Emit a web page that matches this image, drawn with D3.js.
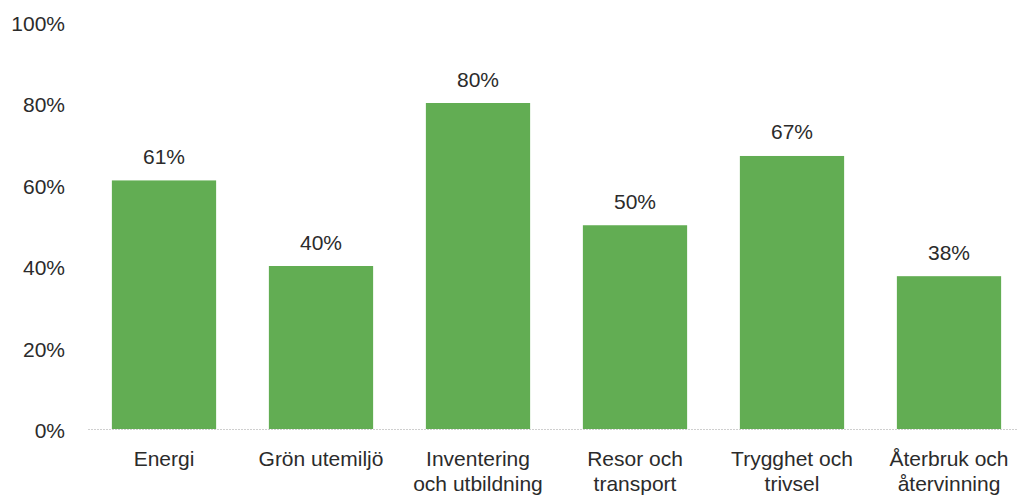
<!DOCTYPE html>
<html>
<head>
<meta charset="utf-8">
<script src="https://cdn.jsdelivr.net/npm/d3@7"></script>
<style>
  body { margin: 0; background: #ffffff; }
  svg { display: block; font-family: "Liberation Sans", Arial, sans-serif; }
</style>
</head>
<body>
<div id="chart"></div>
<script>
// data
const CATEGORIES = [
  ["Energi"],
  ["Grön utemiljö"],
  ["Inventering", "och utbildning"],
  ["Resor och", "transport"],
  ["Trygghet och", "trivsel"],
  ["Återbruk och", "återvinning"]
];
const VALUES = [0.61, 0.40, 0.80, 0.50, 0.67, 0.375];
const Y_TICKS = [0, 0.2, 0.4, 0.6, 0.8, 1.0];

// frame constants
const FRAME_WIDTH = 1017;
const FRAME_HEIGHT = 496;
const BASE_Y = 429;
const TOP_Y = 21.5;
const FONT = "21px";

const FRAME = d3.select("#chart")
  .append("svg")
  .attr("width", FRAME_WIDTH)
  .attr("height", FRAME_HEIGHT);

const KEYS = CATEGORIES.map((c) => c.join(" "));

const X_SCALE = d3.scaleBand()
  .domain(KEYS)
  .range([85.5, 1027.5])
  .paddingInner(0.336)
  .paddingOuter(0.168);

const Y_SCALE = d3.scaleLinear()
  .domain([0, 1])
  .range([BASE_Y, TOP_Y]);

const PCT = d3.format(".0%");

// baseline (light dotted)
FRAME.append("line")
  .attr("x1", 88)
  .attr("x2", FRAME_WIDTH)
  .attr("y1", Y_SCALE(0) + 0.5)
  .attr("y2", Y_SCALE(0) + 0.5)
  .attr("stroke", "#cfcfcf")
  .attr("stroke-dasharray", "2,1")
  .attr("stroke-width", 1);

// y axis (labels only)
const Y_AXIS = FRAME.append("g")
  .attr("transform", "translate(65,2)")
  .call(d3.axisLeft(Y_SCALE).tickValues(Y_TICKS).tickFormat(PCT).tickSize(0).tickPadding(0));
Y_AXIS.select(".domain").remove();
Y_AXIS.selectAll("text")
  .attr("font-family", "'Liberation Sans', Arial, sans-serif")
  .attr("font-size", FONT)
  .attr("fill", "#2b2b2b");

// bars
FRAME.selectAll(".bar")
  .data(VALUES)
  .enter()
  .append("rect")
  .attr("class", "bar")
  .attr("x", (d, i) => X_SCALE(KEYS[i]))
  .attr("y", (d) => Y_SCALE(d))
  .attr("width", X_SCALE.bandwidth())
  .attr("height", (d) => Y_SCALE(0) - Y_SCALE(d))
  .attr("fill", "#62ad53");

// value labels
FRAME.selectAll(".val")
  .data(VALUES)
  .enter()
  .append("text")
  .attr("class", "val")
  .attr("x", (d, i) => X_SCALE(KEYS[i]) + X_SCALE.bandwidth() / 2)
  .attr("y", (d) => Y_SCALE(d) - 16.5)
  .attr("text-anchor", "middle")
  .attr("font-size", FONT)
  .attr("fill", "#2b2b2b")
  .text((d) => PCT(d));

// category labels
const CAT = FRAME.selectAll(".cat")
  .data(CATEGORIES)
  .enter()
  .append("text")
  .attr("class", "cat")
  .attr("x", (d, i) => X_SCALE(KEYS[i]) + X_SCALE.bandwidth() / 2)
  .attr("y", BASE_Y + 37)
  .attr("text-anchor", "middle")
  .attr("font-size", FONT)
  .attr("fill", "#2b2b2b");

CAT.selectAll("tspan")
  .data((d) => d)
  .enter()
  .append("tspan")
  .attr("x", function() { return d3.select(this.parentNode).attr("x"); })
  .attr("dy", (d, i) => i === 0 ? 0 : 25)
  .text((d) => d);
</script>
</body>
</html>
